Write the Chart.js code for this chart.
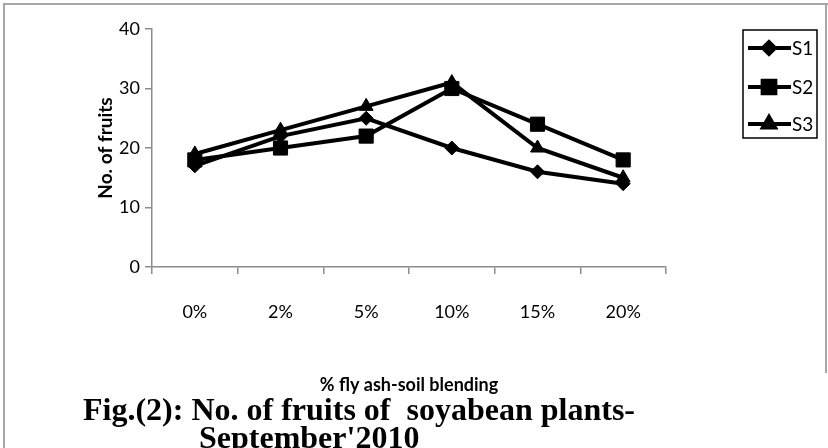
<!DOCTYPE html>
<html>
<head>
<meta charset="utf-8">
<script src="https://cdn.jsdelivr.net/npm/chart.js@4.4.1/dist/chart.umd.min.js"></script>
<style>
  html, body { margin: 0; padding: 0; background: #fff; }
  #wrap { position: relative; width: 828px; height: 448px; overflow: hidden; }
  #frame { position: absolute; left: 3px; top: 3px; width: 830px; height: 450px;
           border-left: 2px solid #a6a6a6; border-top: 2px solid #a6a6a6; }
  #frameR { position: absolute; left: 825px; top: 3px; width: 2px; height: 370px; background: #a6a6a6; }
  canvas { position: absolute; left: 0; top: 0; }
  .cap { position: absolute; font-family: "Liberation Serif", serif; font-weight: bold;
         font-size: 32px; line-height: 1; white-space: nowrap; color: #000; }
</style>
</head>
<body>
<div id="wrap">
  <div id="frame"></div>
  <div id="frameR"></div>
  <canvas id="chart" width="828" height="448"></canvas>
  <div class="cap" style="left:83px; top:393px;">Fig.(2): No. of fruits of&nbsp; soyabean plants-</div>
  <div class="cap" style="left:199px; top:421px;">September'2010</div>
</div>
<script>
const categories = ["0%", "2%", "5%", "10%", "15%", "20%"];
const s1 = [17, 22, 25, 20, 16, 14];
const s2 = [18, 20, 22, 30, 24, 18];
const s3 = [19, 23, 27, 31, 20, 15];
const yTicks = [0, 10, 20, 30, 40];

// boxed legend, line with marker in the middle like Excel
const boxLegend = {
  id: "boxLegend",
  afterDraw(chart) {
    const ctx = chart.ctx;
    const x0 = 743, y0 = 30, w = 74, h = 108;
    ctx.save();
    ctx.strokeStyle = "#000";
    ctx.lineWidth = 1.5;
    ctx.strokeRect(x0, y0, w, h);
    const rows = [48, 87, 124];
    chart.data.datasets.forEach((ds, i) => {
      const y = rows[i];
      ctx.strokeStyle = "#000";
      ctx.lineWidth = 4;
      ctx.beginPath();
      ctx.moveTo(748, y);
      ctx.lineTo(791, y);
      ctx.stroke();
      ctx.fillStyle = "#000";
      Chart.helpers.drawPoint(ctx, {
        pointStyle: ds.pointStyle,
        radius: ds.pointRadius - 1,
        rotation: 0,
        borderWidth: 1
      }, 769, y);
      ctx.fill();
      ctx.font = "19px Lato";
      ctx.textBaseline = "middle";
      ctx.textAlign = "left";
      ctx.fillText(ds.label, 792, y + 1);
    });
    ctx.restore();
  }
};

function series(label, data, style, r) {
  return {
    label: label,
    data: data,
    borderColor: "#000",
    backgroundColor: "#000",
    borderWidth: 4,
    tension: 0,
    pointStyle: style,
    pointRadius: r,
    pointHoverRadius: r,
    pointBackgroundColor: "#000",
    pointBorderColor: "#000",
    pointBorderWidth: 1,
  };
}

new Chart(document.getElementById("chart"), {
  type: "line",
  data: {
    labels: categories,
    datasets: [
      series("S1", s1, "rectRot", 7),
      series("S2", s2, "rect", 10),
      series("S3", s3, "triangle", 8),
    ],
  },
  options: {
    responsive: false,
    animation: false,
    events: [],
    layout: { padding: { left: 0, top: 29, right: 162, bottom: 0 } },
    plugins: {
      legend: { display: false },
      tooltip: { enabled: false },
    },
    scales: {
      x: {
        type: "category",
        offset: true,
        grid: { offset: true, drawOnChartArea: false, tickLength: 7, color: "#8c8c8c", lineWidth: 1.5 },
        border: { color: "#8c8c8c", width: 1.5 },
        ticks: { color: "#000", font: { family: "Lato", size: 18 }, padding: 27, maxRotation: 0 },
        title: {
          display: true,
          text: "% fly ash-soil blending",
          color: "#000",
          font: { family: "Lato", size: 18, weight: "bold" },
          padding: { top: 0, bottom: 52 },
        },
        afterFit: (s) => { s.height = 181; },
      },
      y: {
        min: 0,
        max: 40,
        afterBuildTicks: (s) => { s.ticks = yTicks.map((v) => ({ value: v })); },
        grid: { drawOnChartArea: false, tickLength: 7, color: "#8c8c8c", lineWidth: 1.5 },
        border: { color: "#8c8c8c", width: 1.5 },
        ticks: { color: "#000", font: { family: "Lato", size: 18 }, padding: 5 },
        title: {
          display: true,
          text: "No. of fruits",
          color: "#000",
          font: { family: "Lato", size: 19, weight: "bold" },
          padding: { top: 94, bottom: 0 },
        },
        afterFit: (s) => { s.width = 152; },
      },
    },
  },
  plugins: [boxLegend],
});
</script>
</body>
</html>
